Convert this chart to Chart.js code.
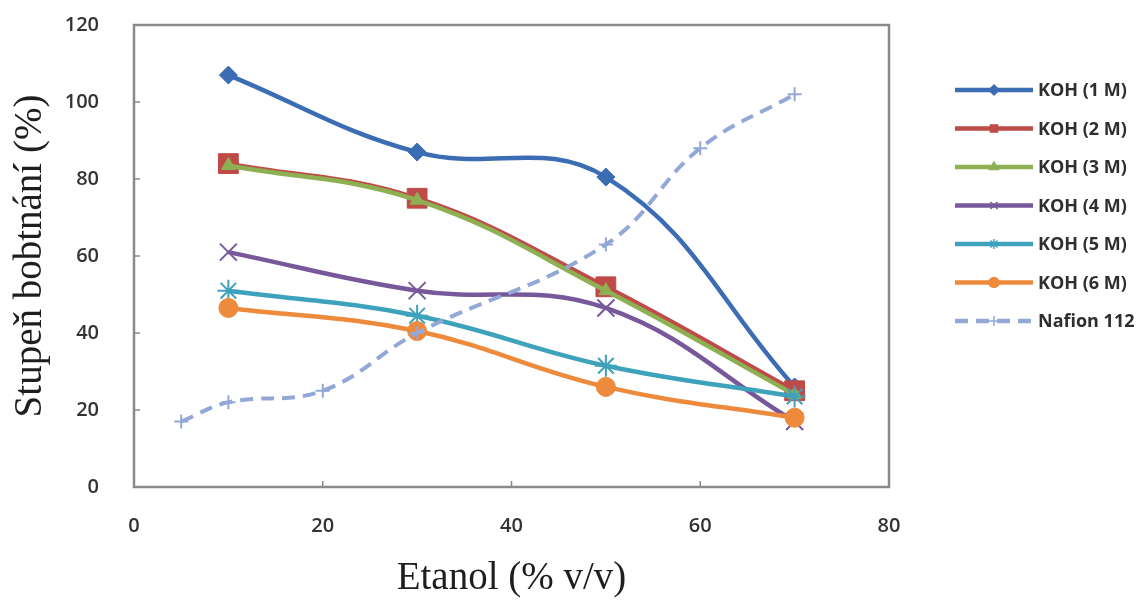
<!DOCTYPE html>
<html>
<head>
<meta charset="utf-8">
<script src="https://cdn.jsdelivr.net/npm/chart.js@4/dist/chart.umd.min.js"></script>
<style>
  html, body { margin: 0; padding: 0; background: #fff; }
  #wrap { width: 1141px; height: 601px; }
</style>
</head>
<body>
<div id="wrap"><canvas id="myChart"></canvas></div>
<script>
// values
var etanolKoh = [10, 30, 50, 70];
var koh1 = [107, 87, 80.5, 26];
var koh2 = [84, 75, 52, 25];
var koh3 = [83.5, 74.5, 51, 24];
var koh4 = [61, 51, 46.5, 17];
var koh5 = [51, 44.5, 31.5, 23.5];
var koh6 = [46.5, 40.5, 26, 18];
var etanolNafion = [5, 10, 20, 30, 50, 60, 70];
var nafion = [17, 22, 25, 40, 63, 88, 102];

var labels = ['KOH (1 M)', 'KOH (2 M)', 'KOH (3 M)', 'KOH (4 M)', 'KOH (5 M)', 'KOH (6 M)', 'Nafion 112'];
var xTicks = [0, 20, 40, 60, 80];
var yTicks = [0, 20, 40, 60, 80, 100, 120];

var colors = ['#3c6db4', '#be4b48', '#8db152', '#77599b', '#3fa2bc', '#ee8a3c', '#93a8d6'];
var markers = ['rectRot', 'rect', 'triangle', 'crossRot', 'star', 'circle', 'cross'];
var radii = [9, 14, 8, 12, 11, 9.5];

function pts(xs, ys) {
    return xs.map(function (x, i) { return { x: x, y: ys[i] }; });
}

var series = [koh1, koh2, koh3, koh4, koh5, koh6];
var datasets = series.map(function (s, i) {
    return {
        label: labels[i],
        data: pts(etanolKoh, s),
        order: 10 - i,   // later series on top, like the original
        borderColor: colors[i],
        backgroundColor: colors[i],
        borderWidth: 4.5,
        pointStyle: markers[i],
        pointRadius: radii[i],
        pointBorderWidth: (markers[i] == 'crossRot' || markers[i] == 'star') ? 2 : 1,
        tension: 0.4
    };
});
datasets.push({
    label: labels[6],
    data: pts(etanolNafion, nafion),
    order: 1,
    borderColor: colors[6],
    backgroundColor: colors[6],
    borderWidth: 4,
    borderDash: [13, 8],
    pointStyle: 'cross',
    pointRadius: 7,
    pointBorderWidth: 2,
    tension: 0.4
});

// frame + inner tick marks
var framePlugin = {
    id: 'frame',
    beforeDatasetsDraw: function (chart) {
        var ctx = chart.ctx, a = chart.chartArea;
        var xs = chart.scales.x, ys = chart.scales.y;
        ctx.save();
        ctx.strokeStyle = '#8a8a8a';
        ctx.lineWidth = 2.5;
        ctx.strokeRect(a.left, a.top, a.right - a.left, a.bottom - a.top);
        ctx.lineWidth = 1.5;
        ctx.beginPath();
        yTicks.forEach(function (v) {
            var y = ys.getPixelForValue(v);
            ctx.moveTo(a.left, y); ctx.lineTo(a.left + 6, y);
        });
        xTicks.forEach(function (v) {
            var x = xs.getPixelForValue(v);
            ctx.moveTo(x, a.bottom); ctx.lineTo(x, a.bottom - 6);
        });
        ctx.stroke();
        ctx.restore();
    }
};

// legend: line with small marker in the middle
var legendPlugin = {
    id: 'sideLegend',
    afterDraw: function (chart) {
        var ctx = chart.ctx;
        var x0 = 955, x1 = 1033, y = 90, step = 38.5;
        chart.data.datasets.forEach(function (ds, i) {
            var yy = y + i * step;
            ctx.save();
            ctx.strokeStyle = ds.borderColor;
            ctx.fillStyle = ds.backgroundColor;
            ctx.lineWidth = 4.5;
            ctx.setLineDash(ds.borderDash || []);
            ctx.beginPath();
            ctx.moveTo(x0, yy); ctx.lineTo(x1, yy);
            ctx.stroke();
            ctx.setLineDash([]);
            ctx.lineWidth = 1.5;
            Chart.helpers.drawPoint(ctx, { pointStyle: ds.pointStyle, radius: 5, rotation: 0, borderWidth: 1.5 }, (x0 + x1) / 2, yy);
            ctx.fillStyle = '#2e2e2e';
            ctx.font = 'bold 18px "Open Sans"';
            ctx.textBaseline = 'middle';
            ctx.fillText(ds.label, x1 + 5, yy + 1);
            ctx.restore();
        });
    }
};

new Chart(document.getElementById('myChart'), {
    type: 'line',
    data: { datasets: datasets },
    options: {
        responsive: true,
        maintainAspectRatio: false,
        animation: false,
        layout: { padding: { top: 25, right: 252, left: 0, bottom: 0 } },
        plugins: {
            legend: { display: false },
            tooltip: { enabled: false }
        },
        scales: {
            x: {
                type: 'linear',
                min: 0, max: 80,
                afterBuildTicks: function (s) { s.ticks = xTicks.map(function (v) { return { value: v }; }); },
                afterFit: function (s) { s.height = 114; s.paddingLeft = 0; s.paddingRight = 0; },
                grid: { display: false },
                border: { display: false },
                ticks: { color: '#333', font: { family: 'Open Sans', size: 20, weight: '600' }, padding: 19 },
                title: {
                    display: true,
                    text: 'Etanol (% v/v)',
                    color: '#1e1e1e',
                    font: { family: 'Liberation Serif', size: 39, lineHeight: 1.1 },
                    padding: { top: 0, bottom: 1 }
                }
            },
            y: {
                min: 0, max: 120,
                afterBuildTicks: function (s) { s.ticks = yTicks.map(function (v) { return { value: v }; }); },
                afterFit: function (s) { s.width = 134; s.paddingTop = 0; s.paddingBottom = 0; },
                grid: { display: false },
                border: { display: false },
                ticks: { color: '#333', font: { family: 'Open Sans', size: 20, weight: '600' }, padding: 27 },
                title: {
                    display: true,
                    text: 'Stupeň bobtnání (%)',
                    color: '#1e1e1e',
                    font: { family: 'Liberation Serif', size: 39, lineHeight: 1.1 },
                    padding: { top: 9, bottom: 0 }
                }
            }
        }
    },
    plugins: [framePlugin, legendPlugin]
});
</script>
</body>
</html>
